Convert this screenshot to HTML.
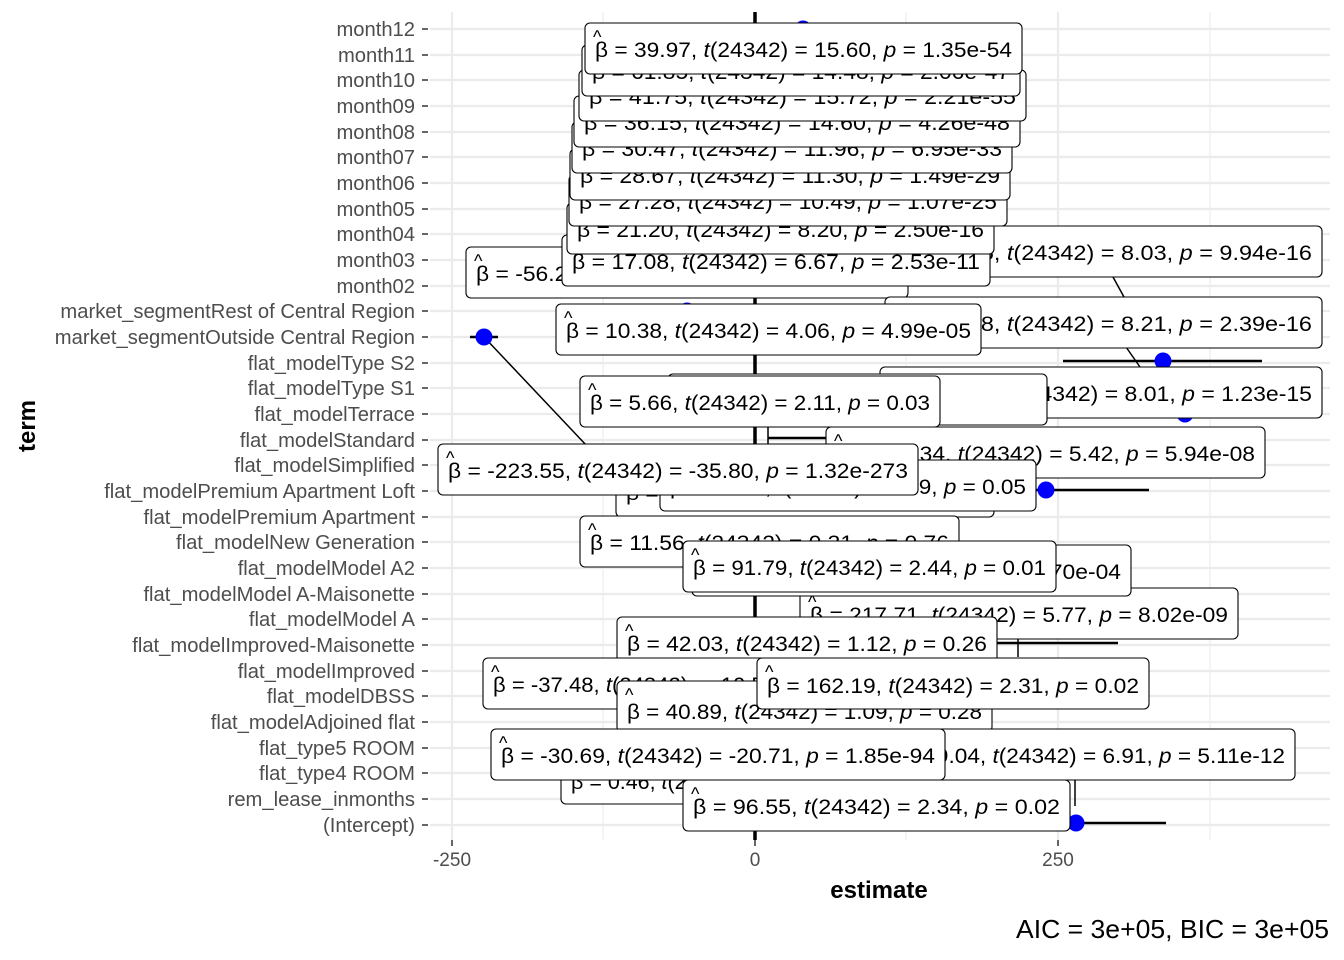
<!DOCTYPE html>
<html><head><meta charset="utf-8"><style>
html,body{margin:0;padding:0;background:#fff;}
svg{display:block;font-family:"Liberation Sans",sans-serif;}
.yl{font-size:20.2px;fill:#4d4d4d;text-anchor:end;}
.bx rect{fill:#fff;stroke:#000;stroke-width:1.1;}
.bx text{font-size:21px;fill:#000;}
.bx text.h{font-size:18px;}
</style></head><body>
<svg width="1344" height="960" viewBox="0 0 1344 960" xmlns="http://www.w3.org/2000/svg">
<g stroke="#ebebeb" stroke-width="1.1">
<line x1="603" y1="12" x2="603" y2="840"/><line x1="906" y1="12" x2="906" y2="840"/><line x1="1210" y1="12" x2="1210" y2="840"/>
</g>
<g stroke="#ebebeb" stroke-width="2.2">
<line x1="452" y1="12" x2="452" y2="840"/><line x1="1058" y1="12" x2="1058" y2="840"/>
<line x1="430" y1="29" x2="1330" y2="29"/><line x1="430" y1="55" x2="1330" y2="55"/><line x1="430" y1="80" x2="1330" y2="80"/><line x1="430" y1="106" x2="1330" y2="106"/><line x1="430" y1="132" x2="1330" y2="132"/><line x1="430" y1="157" x2="1330" y2="157"/><line x1="430" y1="183" x2="1330" y2="183"/><line x1="430" y1="209" x2="1330" y2="209"/><line x1="430" y1="234" x2="1330" y2="234"/><line x1="430" y1="260" x2="1330" y2="260"/><line x1="430" y1="286" x2="1330" y2="286"/><line x1="430" y1="311" x2="1330" y2="311"/><line x1="430" y1="337" x2="1330" y2="337"/><line x1="430" y1="363" x2="1330" y2="363"/><line x1="430" y1="388" x2="1330" y2="388"/><line x1="430" y1="414" x2="1330" y2="414"/><line x1="430" y1="440" x2="1330" y2="440"/><line x1="430" y1="465" x2="1330" y2="465"/><line x1="430" y1="491" x2="1330" y2="491"/><line x1="430" y1="517" x2="1330" y2="517"/><line x1="430" y1="542" x2="1330" y2="542"/><line x1="430" y1="568" x2="1330" y2="568"/><line x1="430" y1="594" x2="1330" y2="594"/><line x1="430" y1="619" x2="1330" y2="619"/><line x1="430" y1="645" x2="1330" y2="645"/><line x1="430" y1="671" x2="1330" y2="671"/><line x1="430" y1="696" x2="1330" y2="696"/><line x1="430" y1="722" x2="1330" y2="722"/><line x1="430" y1="748" x2="1330" y2="748"/><line x1="430" y1="773" x2="1330" y2="773"/><line x1="430" y1="799" x2="1330" y2="799"/><line x1="430" y1="825" x2="1330" y2="825"/>
</g>
<line x1="755" y1="12" x2="755" y2="840" stroke="#000" stroke-width="3.5"/>
<g stroke="#000" stroke-width="1.5">
<line x1="484" y1="337" x2="587" y2="446"/><line x1="1113" y1="277" x2="1124" y2="297"/><line x1="1126" y1="347" x2="1140" y2="367"/>
<line x1="1075" y1="780" x2="1075" y2="806"/><line x1="1018" y1="632" x2="1018" y2="657"/><line x1="768" y1="426" x2="768" y2="445"/>
</g>
<g stroke="#000" stroke-width="2.5">
<line x1="470" y1="337" x2="498" y2="337"/><line x1="1063" y1="361" x2="1262" y2="361"/><line x1="946" y1="490" x2="1149" y2="490"/>
<line x1="900" y1="643" x2="1118" y2="643"/><line x1="985" y1="823" x2="1166" y2="823"/><line x1="768" y1="438" x2="826" y2="438"/>
</g>
<g fill="#0000ff">
<circle cx="803" cy="29" r="8.5"/><circle cx="484" cy="337" r="8.5"/><circle cx="687" cy="311" r="8.5"/><circle cx="1163" cy="361" r="8.5"/>
<circle cx="1185" cy="414" r="8.5"/><circle cx="1046" cy="490" r="8.5"/><circle cx="1076" cy="823" r="8.5"/>
</g>
<g class="bx">
<g><rect x="466" y="247" width="442" height="51" rx="5"/><text class="h" x="474" y="267">^</text><text x="476" y="281" textLength="422" lengthAdjust="spacingAndGlyphs">β = -56.21, <tspan font-style="italic">t</tspan>(24342) = -8.77, <tspan font-style="italic">p</tspan> = 1.92e-18</text></g>
<g><rect x="885" y="226" width="437" height="51" rx="5"/><text x="895" y="260" textLength="417" lengthAdjust="spacingAndGlyphs">β = 66.25, <tspan font-style="italic">t</tspan>(24342) = 8.03, <tspan font-style="italic">p</tspan> = 9.94e-16</text></g>
<g><rect x="885" y="297" width="437" height="51" rx="5"/><text x="895" y="331" textLength="417" lengthAdjust="spacingAndGlyphs">β = 67.88, <tspan font-style="italic">t</tspan>(24342) = 8.21, <tspan font-style="italic">p</tspan> = 2.39e-16</text></g>
<g><rect x="562" y="235" width="428" height="51" rx="5"/><text class="h" x="570" y="255">^</text><text x="572" y="269" textLength="408" lengthAdjust="spacingAndGlyphs">β = 17.08, <tspan font-style="italic">t</tspan>(24342) = 6.67, <tspan font-style="italic">p</tspan> = 2.53e-11</text></g>
<g><rect x="567" y="203" width="427" height="51" rx="5"/><text class="h" x="575" y="223">^</text><text x="577" y="237" textLength="407" lengthAdjust="spacingAndGlyphs">β = 21.20, <tspan font-style="italic">t</tspan>(24342) = 8.20, <tspan font-style="italic">p</tspan> = 2.50e-16</text></g>
<g><rect x="569" y="175" width="438" height="51" rx="5"/><text class="h" x="577" y="195">^</text><text x="579" y="209" textLength="418" lengthAdjust="spacingAndGlyphs">β = 27.28, <tspan font-style="italic">t</tspan>(24342) = 10.49, <tspan font-style="italic">p</tspan> = 1.07e-25</text></g>
<g><rect x="570" y="149" width="440" height="51" rx="5"/><text class="h" x="578" y="169">^</text><text x="580" y="183" textLength="420" lengthAdjust="spacingAndGlyphs">β = 28.67, <tspan font-style="italic">t</tspan>(24342) = 11.30, <tspan font-style="italic">p</tspan> = 1.49e-29</text></g>
<g><rect x="572" y="122" width="440" height="51" rx="5"/><text class="h" x="580" y="142">^</text><text x="582" y="156" textLength="420" lengthAdjust="spacingAndGlyphs">β = 30.47, <tspan font-style="italic">t</tspan>(24342) = 11.96, <tspan font-style="italic">p</tspan> = 6.95e-33</text></g>
<g><rect x="574" y="96" width="446" height="51" rx="5"/><text class="h" x="582" y="116">^</text><text x="584" y="130" textLength="426" lengthAdjust="spacingAndGlyphs">β = 36.15, <tspan font-style="italic">t</tspan>(24342) = 14.60, <tspan font-style="italic">p</tspan> = 4.26e-48</text></g>
<g><rect x="579" y="70" width="447" height="51" rx="5"/><text class="h" x="587" y="90">^</text><text x="589" y="104" textLength="427" lengthAdjust="spacingAndGlyphs">β = 41.75, <tspan font-style="italic">t</tspan>(24342) = 15.72, <tspan font-style="italic">p</tspan> = 2.21e-55</text></g>
<g><rect x="582" y="45" width="438" height="51" rx="5"/><text class="h" x="590" y="65">^</text><text x="592" y="79" textLength="418" lengthAdjust="spacingAndGlyphs">β = 61.85, <tspan font-style="italic">t</tspan>(24342) = 14.48, <tspan font-style="italic">p</tspan> = 2.06e-47</text></g>
<g><rect x="585" y="23" width="437" height="51" rx="5"/><text class="h" x="593" y="43">^</text><text x="595" y="57" textLength="417" lengthAdjust="spacingAndGlyphs">β = 39.97, <tspan font-style="italic">t</tspan>(24342) = 15.60, <tspan font-style="italic">p</tspan> = 1.35e-54</text></g>
<g><rect x="556" y="304" width="425" height="51" rx="5"/><text class="h" x="564" y="324">^</text><text x="566" y="338" textLength="405" lengthAdjust="spacingAndGlyphs">β = 10.38, <tspan font-style="italic">t</tspan>(24342) = 4.06, <tspan font-style="italic">p</tspan> = 4.99e-05</text></g>
<g><rect x="880" y="367" width="442" height="51" rx="5"/><text x="890" y="401" textLength="422" lengthAdjust="spacingAndGlyphs">β = 153.69, <tspan font-style="italic">t</tspan>(24342) = 8.01, <tspan font-style="italic">p</tspan> = 1.23e-15</text></g>
<g><rect x="668" y="374" width="379" height="51" rx="5"/></g>
<g><rect x="580" y="376" width="360" height="51" rx="5"/><text class="h" x="588" y="396">^</text><text x="590" y="410" textLength="340" lengthAdjust="spacingAndGlyphs">β = 5.66, <tspan font-style="italic">t</tspan>(24342) = 2.11, <tspan font-style="italic">p</tspan> = 0.03</text></g>
<g><rect x="826" y="427" width="439" height="51" rx="5"/><text class="h" x="834" y="447">^</text><text x="836" y="461" textLength="419" lengthAdjust="spacingAndGlyphs">β = 108.34, <tspan font-style="italic">t</tspan>(24342) = 5.42, <tspan font-style="italic">p</tspan> = 5.94e-08</text></g>
<g><rect x="616" y="466" width="378" height="51" rx="5"/><text x="626" y="500" textLength="358" lengthAdjust="spacingAndGlyphs">β = 19.29, <tspan font-style="italic">t</tspan>(24342) = 1.97, <tspan font-style="italic">p</tspan> = 0.05</text></g>
<g><rect x="660" y="460" width="376" height="51" rx="5"/><text x="670" y="494" textLength="356" lengthAdjust="spacingAndGlyphs">β = 98.27, <tspan font-style="italic">t</tspan>(24342) = 1.99, <tspan font-style="italic">p</tspan> = 0.05</text></g>
<g><rect x="438" y="444" width="480" height="51" rx="5"/><text class="h" x="446" y="464">^</text><text x="448" y="478" textLength="460" lengthAdjust="spacingAndGlyphs">β = -223.55, <tspan font-style="italic">t</tspan>(24342) = -35.80, <tspan font-style="italic">p</tspan> = 1.32e-273</text></g>
<g><rect x="580" y="516" width="379" height="51" rx="5"/><text class="h" x="588" y="536">^</text><text x="590" y="550" textLength="359" lengthAdjust="spacingAndGlyphs">β = 11.56, <tspan font-style="italic">t</tspan>(24342) = 0.31, <tspan font-style="italic">p</tspan> = 0.76</text></g>
<g><rect x="800" y="588" width="438" height="51" rx="5"/><text class="h" x="808" y="608">^</text><text x="810" y="622" textLength="418" lengthAdjust="spacingAndGlyphs">β = 217.71, <tspan font-style="italic">t</tspan>(24342) = 5.77, <tspan font-style="italic">p</tspan> = 8.02e-09</text></g>
<g><rect x="692" y="545" width="439" height="51" rx="5"/><text x="702" y="579" textLength="419" lengthAdjust="spacingAndGlyphs">β = 108.05, <tspan font-style="italic">t</tspan>(24342) = 3.40, <tspan font-style="italic">p</tspan> = 6.70e-04</text></g>
<g><rect x="683" y="541" width="373" height="51" rx="5"/><text class="h" x="691" y="561">^</text><text x="693" y="575" textLength="353" lengthAdjust="spacingAndGlyphs">β = 91.79, <tspan font-style="italic">t</tspan>(24342) = 2.44, <tspan font-style="italic">p</tspan> = 0.01</text></g>
<g><rect x="617" y="617" width="380" height="51" rx="5"/><text class="h" x="625" y="637">^</text><text x="627" y="651" textLength="360" lengthAdjust="spacingAndGlyphs">β = 42.03, <tspan font-style="italic">t</tspan>(24342) = 1.12, <tspan font-style="italic">p</tspan> = 0.26</text></g>
<g><rect x="483" y="658" width="524" height="51" rx="5"/><text class="h" x="491" y="678">^</text><text x="493" y="692" textLength="420" lengthAdjust="spacingAndGlyphs">β = -37.48, <tspan font-style="italic">t</tspan>(24342) = -10.58, <tspan font-style="italic">p</tspan> = 4.02e-26</text></g>
<g><rect x="617" y="681" width="375" height="51" rx="5"/><text class="h" x="625" y="701">^</text><text x="627" y="719" textLength="355" lengthAdjust="spacingAndGlyphs">β = 40.89, <tspan font-style="italic">t</tspan>(24342) = 1.09, <tspan font-style="italic">p</tspan> = 0.28</text></g>
<g><rect x="757" y="658" width="392" height="51" rx="5"/><text class="h" x="765" y="678">^</text><text x="767" y="693" textLength="372" lengthAdjust="spacingAndGlyphs">β = 162.19, <tspan font-style="italic">t</tspan>(24342) = 2.31, <tspan font-style="italic">p</tspan> = 0.02</text></g>
<g><rect x="561" y="753" width="390" height="51" rx="5"/><text x="571" y="789" textLength="370" lengthAdjust="spacingAndGlyphs">β = 0.46, <tspan font-style="italic">t</tspan>(24342) = 8.40, <tspan font-style="italic">p</tspan> = 4.70e-17</text></g>
<g><rect x="862" y="729" width="433" height="51" rx="5"/><text x="872" y="763" textLength="413" lengthAdjust="spacingAndGlyphs">β = 149.04, <tspan font-style="italic">t</tspan>(24342) = 6.91, <tspan font-style="italic">p</tspan> = 5.11e-12</text></g>
<g><rect x="491" y="729" width="454" height="51" rx="5"/><text class="h" x="499" y="749">^</text><text x="501" y="763" textLength="434" lengthAdjust="spacingAndGlyphs">β = -30.69, <tspan font-style="italic">t</tspan>(24342) = -20.71, <tspan font-style="italic">p</tspan> = 1.85e-94</text></g>
<g><rect x="683" y="780" width="387" height="51" rx="5"/><text class="h" x="691" y="800">^</text><text x="693" y="814" textLength="367" lengthAdjust="spacingAndGlyphs">β = 96.55, <tspan font-style="italic">t</tspan>(24342) = 2.34, <tspan font-style="italic">p</tspan> = 0.02</text></g>
</g>
<g class="yl">
<text x="415" y="36">month12</text><text x="415" y="62">month11</text><text x="415" y="87">month10</text><text x="415" y="113">month09</text><text x="415" y="139">month08</text><text x="415" y="164">month07</text><text x="415" y="190">month06</text><text x="415" y="216">month05</text><text x="415" y="241">month04</text><text x="415" y="267">month03</text><text x="415" y="293">month02</text><text x="415" y="318">market_segmentRest of Central Region</text><text x="415" y="344">market_segmentOutside Central Region</text><text x="415" y="370">flat_modelType S2</text><text x="415" y="395">flat_modelType S1</text><text x="415" y="421">flat_modelTerrace</text><text x="415" y="447">flat_modelStandard</text><text x="415" y="472">flat_modelSimplified</text><text x="415" y="498">flat_modelPremium Apartment Loft</text><text x="415" y="524">flat_modelPremium Apartment</text><text x="415" y="549">flat_modelNew Generation</text><text x="415" y="575">flat_modelModel A2</text><text x="415" y="601">flat_modelModel A-Maisonette</text><text x="415" y="626">flat_modelModel A</text><text x="415" y="652">flat_modelImproved-Maisonette</text><text x="415" y="678">flat_modelImproved</text><text x="415" y="703">flat_modelDBSS</text><text x="415" y="729">flat_modelAdjoined flat</text><text x="415" y="755">flat_type5 ROOM</text><text x="415" y="780">flat_type4 ROOM</text><text x="415" y="806">rem_lease_inmonths</text><text x="415" y="832">(Intercept)</text>
</g>
<g stroke="#333" stroke-width="1.5">
<line x1="422" y1="29" x2="428" y2="29"/><line x1="422" y1="55" x2="428" y2="55"/><line x1="422" y1="80" x2="428" y2="80"/><line x1="422" y1="106" x2="428" y2="106"/><line x1="422" y1="132" x2="428" y2="132"/><line x1="422" y1="157" x2="428" y2="157"/><line x1="422" y1="183" x2="428" y2="183"/><line x1="422" y1="209" x2="428" y2="209"/><line x1="422" y1="234" x2="428" y2="234"/><line x1="422" y1="260" x2="428" y2="260"/><line x1="422" y1="286" x2="428" y2="286"/><line x1="422" y1="311" x2="428" y2="311"/><line x1="422" y1="337" x2="428" y2="337"/><line x1="422" y1="363" x2="428" y2="363"/><line x1="422" y1="388" x2="428" y2="388"/><line x1="422" y1="414" x2="428" y2="414"/><line x1="422" y1="440" x2="428" y2="440"/><line x1="422" y1="465" x2="428" y2="465"/><line x1="422" y1="491" x2="428" y2="491"/><line x1="422" y1="517" x2="428" y2="517"/><line x1="422" y1="542" x2="428" y2="542"/><line x1="422" y1="568" x2="428" y2="568"/><line x1="422" y1="594" x2="428" y2="594"/><line x1="422" y1="619" x2="428" y2="619"/><line x1="422" y1="645" x2="428" y2="645"/><line x1="422" y1="671" x2="428" y2="671"/><line x1="422" y1="696" x2="428" y2="696"/><line x1="422" y1="722" x2="428" y2="722"/><line x1="422" y1="748" x2="428" y2="748"/><line x1="422" y1="773" x2="428" y2="773"/><line x1="422" y1="799" x2="428" y2="799"/><line x1="422" y1="825" x2="428" y2="825"/>
<line x1="452" y1="840" x2="452" y2="846"/><line x1="755" y1="840" x2="755" y2="846"/><line x1="1058" y1="840" x2="1058" y2="846"/>
</g>
<g font-size="19" fill="#4d4d4d" text-anchor="middle">
<text x="452" y="866">-250</text><text x="755" y="866">0</text><text x="1058" y="866">250</text>
</g>
<text x="879" y="898" font-size="24" font-weight="bold" text-anchor="middle">estimate</text>
<text transform="translate(35,426) rotate(-90)" font-size="24" font-weight="bold" text-anchor="middle">term</text>
<text x="1329" y="938" font-size="26" text-anchor="end" textLength="313" lengthAdjust="spacingAndGlyphs">AIC = 3e+05, BIC = 3e+05</text>
</svg>
</body></html>
